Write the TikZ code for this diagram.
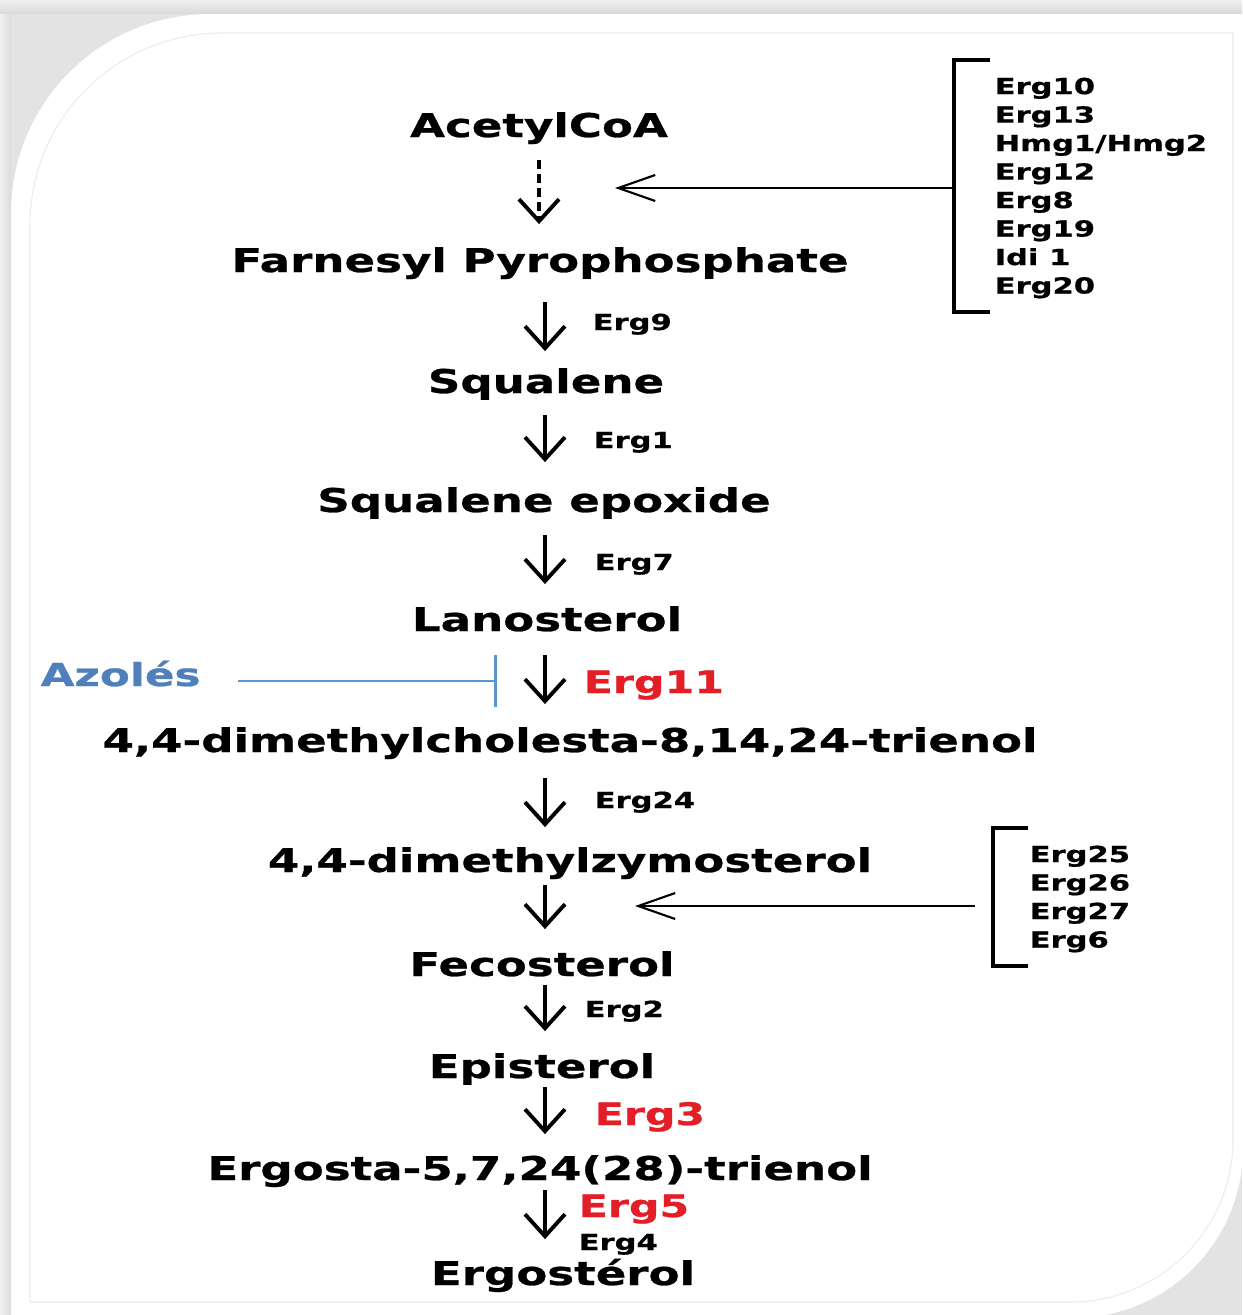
\documentclass[tikz,border=0pt]{standalone}
\usepackage{fontspec}
\setmainfont{DejaVu Sans}[FakeStretch=1.38,BoldFeatures={FakeBold=0.8}]
\usetikzlibrary{arrows.meta,calc}
\definecolor{ergred}{RGB}{228,30,38}
\definecolor{azoleblue}{RGB}{80,128,188}
\definecolor{azoleline}{RGB}{92,150,208}

\begin{document}
\begin{tikzpicture}[x=0.01cm,y=-0.01cm,
  sterol/.style={font=\bfseries\fontsize{9.3}{10}\selectfont,inner sep=0pt,
    text height=6.6pt,text depth=1.9pt,anchor=base},
  gene/.style={font=\bfseries\fontsize{6.3}{8.1}\selectfont,inner sep=0pt,anchor=base west},
  keygene/.style={gene,font=\bfseries\fontsize{8.8}{10}\selectfont,text=ergred},
  conv/.style={line width=1.1pt,-{Straight Barb[length=2.2mm,width=4mm]}},
  feed/.style={line width=0.6pt,-{Straight Barb[length=3.7mm,width=2.6mm]}},
  bracket/.style={line width=0.9pt},
  ]
\useasboundingbox (0,0) rectangle (1242,1315);
\def\reaction#1#2#3#4{
  \draw[conv,shorten <=#3mm,shorten >=#4mm] (#1.south -| ax) -- (#2.north -| ax);
}
    % card with shadow
\shade[top color=gray!12,bottom color=gray!30] (0,0) rectangle (1242,14);
\fill[gray!22] (0,14) rectangle (1242,1315);
\shade[left color=gray!12,right color=gray!28] (0,14) rectangle (11,1315);
\fill[white] (11,1318) -- (11,214) .. controls (11,103) and (100,14) .. (211,14) -- (1243,14)
  -- (1243,1148) .. controls (1243,1242) and (1167,1318) .. (1073,1318) -- cycle;
\draw[gray!15,line width=0.3pt] (30,1302) -- (30,225) .. controls (30,119) and (116,33) .. (222,33)
  -- (1233,33) -- (1233,1140) .. controls (1233,1229) and (1160,1302) .. (1071,1302) -- cycle;
    % pathway
\coordinate (ax) at (545,0);
\node[sterol] (acetyl) at (539,137) {AcetylCoA};
\node[sterol] (farnesyl) at (540,272) {Farnesyl Pyrophosphate};
\node[sterol] (squalene) at (546,393) {Squalene};
\node[sterol] (epoxide) at (544,512) {Squalene epoxide};
\node[sterol] (lanosterol) at (547,631) {Lanosterol};
\node[sterol] (trienol) at (570,752) {4,4-dimethylcholesta-8,14,24-trienol};
\node[sterol] (zymosterol) at (570,872) {4,4-dimethylzymosterol};
\node[sterol] (fecosterol) at (542,976) {Fecosterol};
\node[sterol] (episterol) at (542,1078) {Episterol};
\node[sterol] (ergosta) at (540,1180) {Ergosta-5,7,24(28)-trienol};
\node[sterol] (ergosterol) at (563,1285) {Ergostérol};

\draw[conv,dash pattern=on 0.9mm off 0.5mm,shorten <=1.6mm,shorten >=2.4mm]
  (acetyl.south) -- (acetyl.south |- farnesyl.north);
\reaction{farnesyl}{squalene}{2.3}{1.8}
\reaction{squalene}{epoxide}{1.5}{2.6}
\reaction{epoxide}{lanosterol}{1.6}{2.3}
\reaction{lanosterol}{trienol}{1.7}{2.4}
\reaction{trienol}{zymosterol}{1.9}{2.1}
\reaction{zymosterol}{fecosterol}{0.6}{2.3}
\reaction{fecosterol}{episterol}{0.2}{2.3}
\reaction{episterol}{ergosta}{0.2}{2.2}
\reaction{ergosta}{ergosterol}{0.3}{2.2}

    % enzymes
\node[gene] (erg9) at (592,330) {Erg9};
\node[gene] (erg1) at (593,448) {Erg1};
\node[gene] (erg7) at (594,570) {Erg7};
\node[keygene] (erg11) at (583,693) {Erg11};
\node[gene] (erg24) at (594,808) {Erg24};
\node[gene] (erg2) at (584,1017) {Erg2};
\node[keygene] (erg3) at (594,1125) {Erg3};
\node[keygene] (erg5) at (578,1217) {Erg5};
\node[gene] (erg4) at (578,1250) {Erg4};

    % enzyme groups
\node[gene,anchor=west,align=left] (early) at (994,188)
  {Erg10\\Erg13\\Hmg1/Hmg2\\Erg12\\Erg8\\Erg19\\Idi 1\\Erg20};
\draw[bracket] ([xshift=-0.4mm,yshift=1.7mm]early.north west) -| ([xshift=-4mm]early.west)
  |- ([xshift=-0.4mm,yshift=-1.3mm]early.south west);
\coordinate (hit1) at (615,188);
\draw[feed] ([xshift=-4mm]early.west) -- (hit1);

\node[gene,anchor=west,align=left] (late) at (1029,899) {Erg25\\Erg26\\Erg27\\Erg6};
\draw[bracket] ([xshift=-0.1mm,yshift=1.7mm]late.north west) -| ([xshift=-3.6mm]late.west)
  |- ([xshift=-0.1mm,yshift=-1.3mm]late.south west);
\coordinate (hit2) at (635,906);
\draw[feed,shorten <=1.8mm] ([xshift=-3.6mm]late.west |- hit2) -- (hit2);

    % inhibitor
\node[font=\bfseries\fontsize{9}{10}\selectfont,text=azoleblue,inner sep=0pt,anchor=base west]
  (azoles) at (40,686) {Azolés};
\coordinate (block) at (497,681);
\draw[azoleline,line width=0.7pt,shorten <=3.7mm,-{Bar[width=5.2mm,line width=0.9pt]}]
  (azoles.east |- block) -- (block);
\end{tikzpicture}
\end{document}
